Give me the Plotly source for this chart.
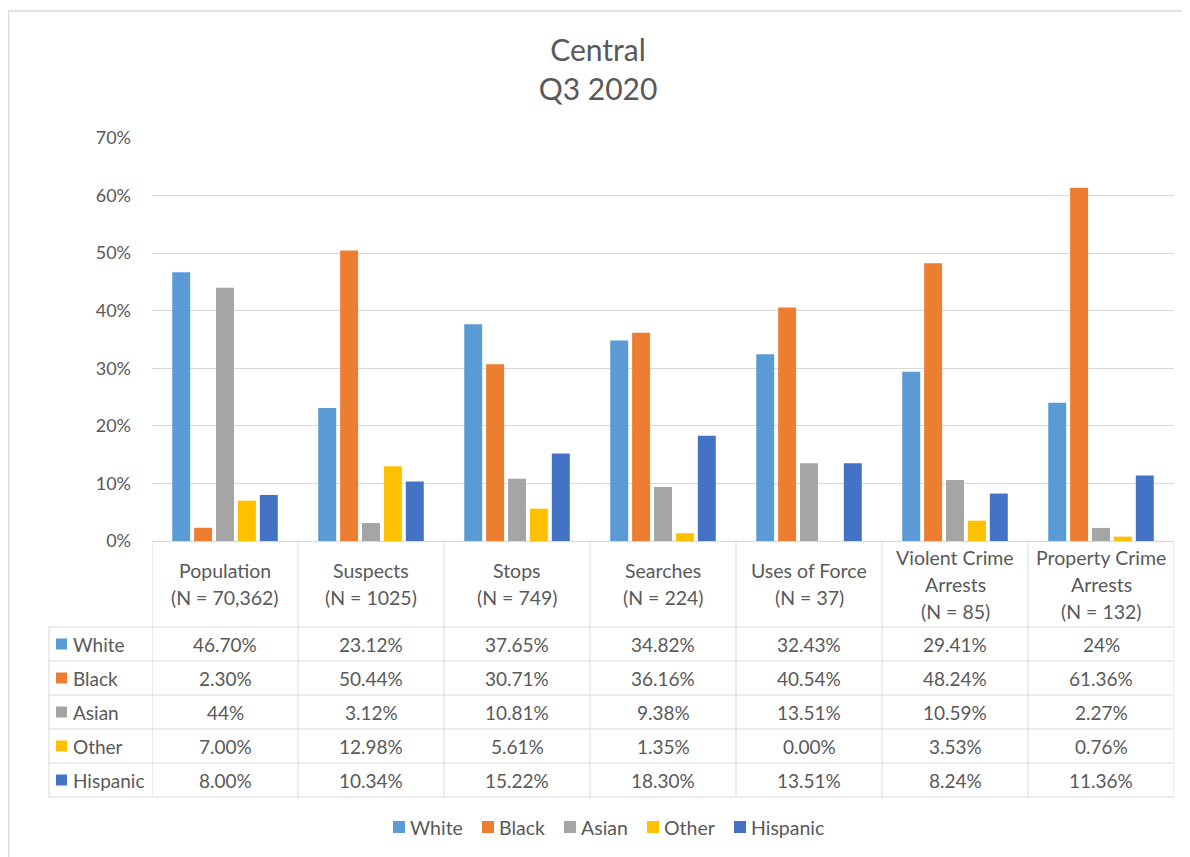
import plotly.graph_objects as go

categories = ["Population", "Suspects", "Stops", "Searches", "Uses of Force",
              "Violent Crime Arrests", "Property Crime Arrests"]
header_lines = [
    ["Population", "(N = 70,362)"],
    ["Suspects", "(N = 1025)"],
    ["Stops", "(N = 749)"],
    ["Searches", "(N = 224)"],
    ["Uses of Force", "(N = 37)"],
    ["Violent Crime", "Arrests", "(N = 85)"],
    ["Property Crime", "Arrests", "(N = 132)"],
]
white = [0.4670, 0.2312, 0.3765, 0.3482, 0.3243, 0.2941, 0.24]
black = [0.0230, 0.5044, 0.3071, 0.3616, 0.4054, 0.4824, 0.6136]
asian = [0.44, 0.0312, 0.1081, 0.0938, 0.1351, 0.1059, 0.0227]
other = [0.0700, 0.1298, 0.0561, 0.0135, 0.0000, 0.0353, 0.0076]
hispanic = [0.0800, 0.1034, 0.1522, 0.1830, 0.1351, 0.0824, 0.1136]
# how each value is printed in the data table
white_txt = ["46.70%", "23.12%", "37.65%", "34.82%", "32.43%", "29.41%", "24%"]
black_txt = ["2.30%", "50.44%", "30.71%", "36.16%", "40.54%", "48.24%", "61.36%"]
asian_txt = ["44%", "3.12%", "10.81%", "9.38%", "13.51%", "10.59%", "2.27%"]
other_txt = ["7.00%", "12.98%", "5.61%", "1.35%", "0.00%", "3.53%", "0.76%"]
hispanic_txt = ["8.00%", "10.34%", "15.22%", "18.30%", "13.51%", "8.24%", "11.36%"]

series = [
    ("White", white, white_txt, "#5B9BD5"),
    ("Black", black, black_txt, "#ED7D31"),
    ("Asian", asian, asian_txt, "#A5A5A5"),
    ("Other", other, other_txt, "#FFC000"),
    ("Hispanic", hispanic, hispanic_txt, "#4472C4"),
]

FONT = "Lato"
GRID = "#D9D9D9"
TXT = "#595959"

# page puts the figure 8px in from the top-left, positions below are screen px
W, H = 1190, 857
OFF = 8
PL, PR, PT, PB = 152, 1174, 138, 541


def py(y):
    return (PB - y) / (PB - PT)


def px(x):
    return (x - PL) / (PR - PL)


def cy(y):
    return 1 - (y - OFF) / H


def cx(x):
    return (x - OFF) / W


fig = go.Figure()
for name, vals, _, col in series:
    fig.add_trace(go.Bar(name=name, x=categories, y=vals, marker_color=col,
                         marker_line_width=0))

shapes = []
annotations = []

# table grid
row_lines = [627, 661, 695, 729, 763, 797]
for y in row_lines:
    shapes.append(dict(type="line", xref="paper", yref="paper",
                       x0=px(49), x1=1, y0=py(y), y1=py(y),
                       line=dict(color=GRID, width=1)))
for i in range(len(categories) + 1):
    shapes.append(dict(type="line", xref="x", yref="paper",
                       x0=i - 0.5, x1=i - 0.5, y0=0, y1=py(797),
                       line=dict(color=GRID, width=1)))
shapes.append(dict(type="line", xref="paper", yref="paper",
                   x0=px(49), x1=px(49), y0=py(627), y1=py(797),
                   line=dict(color=GRID, width=1)))

# outer chart border
shapes.append(dict(type="rect", xref="paper", yref="paper",
                   x0=px(8.5), x1=px(1200), y0=py(11), y1=py(900),
                   line=dict(color="#D9D9D9", width=1.5), layer="below"))

# header row
for i, lines in enumerate(header_lines):
    n = len(lines)
    for k, line in enumerate(lines):
        yc = 584 + (k - (n - 1) / 2) * 27
        annotations.append(dict(x=categories[i], y=py(yc), xref="x", yref="paper",
                                text=line, showarrow=False, yanchor="middle",
                                font=dict(family=FONT, size=19.5, color=TXT)))

# data rows
for r, (name, vals, txt, col) in enumerate(series):
    yc = (row_lines[r] + row_lines[r + 1]) / 2
    shapes.append(dict(type="rect", xref="paper", yref="paper",
                       x0=px(56), x1=px(67), y0=py(yc + 5.5), y1=py(yc - 5.5),
                       fillcolor=col, line=dict(width=0)))
    annotations.append(dict(x=px(71), y=py(yc), xref="paper", yref="paper",
                            xanchor="left", yanchor="middle", showarrow=False,
                            text=name,
                            font=dict(family=FONT, size=19, color=TXT)))
    for i, t in enumerate(txt):
        annotations.append(dict(x=categories[i], y=py(yc), xref="x", yref="paper",
                                text=t, showarrow=False, yanchor="middle",
                                font=dict(family=FONT, size=19, color=TXT)))

# legend below the table
legend_x = [393, 482, 564, 647, 734]
for (name, _, _, col), lx in zip(series, legend_x):
    shapes.append(dict(type="rect", xref="paper", yref="paper",
                       x0=px(lx), x1=px(lx + 12), y0=py(833), y1=py(821),
                       fillcolor=col, line=dict(width=0)))
    annotations.append(dict(x=px(lx + 15), y=py(827), xref="paper", yref="paper",
                            xanchor="left", yanchor="middle", showarrow=False,
                            text=name,
                            font=dict(family=FONT, size=19.5, color=TXT)))

fig.update_layout(
    width=W, height=H, autosize=False,
    margin=dict(l=PL - OFF, r=W - PR + OFF, t=PT - OFF, b=H - PB + OFF),
    paper_bgcolor="white", plot_bgcolor="white",
    font=dict(family=FONT, color=TXT),
    title=dict(text="Central<br>Q3 2020", x=cx(598), xref="container",
               y=cy(61), yref="container", yanchor="middle", xanchor="center",
               font=dict(family=FONT, size=30, color=TXT)),
    barmode="group", bargap=0.25, bargroupgap=0.18,
    showlegend=False,
    shapes=shapes, annotations=annotations,
)
fig.update_xaxes(showticklabels=False, showline=True, linecolor=GRID,
                 range=[-0.5, len(categories) - 0.5], showgrid=False)
fig.update_yaxes(range=[0, 0.7], dtick=0.1, tickformat=".0%", gridcolor=GRID,
                 showline=False, zeroline=False, ticks="",
                 ticklabelstandoff=20,
                 tickfont=dict(family=FONT, size=18, color=TXT))

fig.write_html("out.html")
